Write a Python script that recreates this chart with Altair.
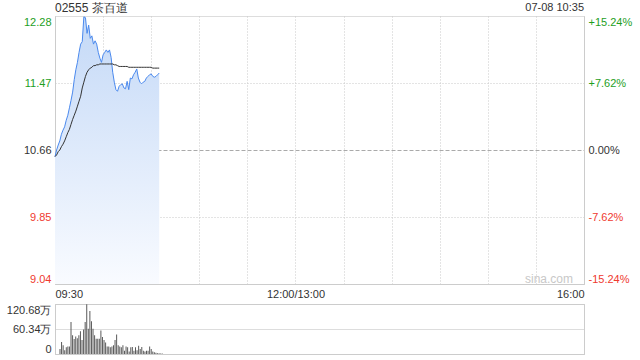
import altair as alt
import pandas as pd

# ---- data ----
minute_idx = list(range(66))  # minutes since 09:30 (09:30 .. 10:35)

price = [10.58, 10.66, 10.72, 10.77, 10.85, 10.90, 10.94, 11.02, 11.08, 11.17,
         11.26, 11.36, 11.51, 11.63, 11.72, 11.84, 11.94, 11.97, 12.27, 12.26,
         12.07, 12.17, 12.01, 12.04, 11.94, 11.98, 11.94, 11.84, 11.77, 11.72,
         11.81, 11.84, 11.87, 11.84, 11.87, 11.78, 11.60, 11.48, 11.39, 11.37,
         11.43, 11.45, 11.46, 11.41, 11.40, 11.49, 11.39, 11.53, 11.52, 11.57,
         11.60, 11.64, 11.53, 11.48, 11.46, 11.48, 11.49, 11.53, 11.55, 11.57,
         11.58, 11.55, 11.54, 11.55, 11.57, 11.59]

avg_price = [10.58, 10.60, 10.64, 10.66, 10.70, 10.73, 10.77, 10.82, 10.87, 10.91,
             10.97, 11.03, 11.08, 11.13, 11.19, 11.25, 11.31, 11.41, 11.48, 11.55,
             11.60, 11.63, 11.65, 11.66, 11.68, 11.68, 11.69, 11.69, 11.70, 11.70,
             11.70, 11.70, 11.70, 11.70, 11.70, 11.70, 11.70, 11.69, 11.69, 11.68,
             11.67, 11.67, 11.67, 11.67, 11.67, 11.67, 11.66, 11.66, 11.66, 11.66,
             11.66, 11.66, 11.66, 11.66, 11.66, 11.66, 11.66, 11.66, 11.66, 11.66,
             11.66, 11.65, 11.65, 11.65, 11.65, 11.65]

volume_wan = [12, 29, 21, 9, 16, 18, 18, 77, 45, 36,
              42, 38, 45, 55, 34, 59, 77, 120, 61, 104,
              79, 61, 45, 37, 37, 37, 57, 41, 34, 28,
              18, 18, 16, 18, 21, 34, 47, 21, 18, 16,
              21, 8, 18, 16, 6, 16, 17, 8, 16, 9,
              20, 12, 17, 8, 6, 8, 8, 18, 12, 6,
              4, 3, 2, 2, 1, 1]

prev_close = 10.66
price_ticks = [9.04, 9.85, 10.66, 11.47, 12.28]
pct_ticks = [-15.24, -7.62, 0.0, 7.62, 15.24]
vol_ticks = [0, 60.34, 120.68]
time_ticks = [0, 30, 60, 90, 120, 150, 180, 210, 240, 270, 300, 330]
time_tick_labels = {0: "09:30", 150: "12:00/13:00", 330: "16:00"}
session_minutes = 330

title_text = "02555 茶百道"
stamp_text = "07-08 10:35"
watermark_text = "sina.com"

GREEN = "#1e9e1e"
RED = "#ef3a2f"
DARK = "#333333"
FRAME = "#cccccc"
GRID = "#c8c8c8"
FONT = "Liberation Sans"

df = pd.DataFrame({
    "t": minute_idx,
    "price": price,
    "avg": avg_price,
    "vol": volume_wan,
    "base": [price_ticks[0]] * len(minute_idx),
})

label_expr = " : ".join(
    [f"datum.value == {k} ? '{v}'" for k, v in time_tick_labels.items()]
) + " : ''"

x_scale = alt.Scale(domain=[0, session_minutes], nice=False, zero=False)
y_scale = alt.Scale(domain=[price_ticks[0], price_ticks[-1]], nice=False, zero=False)

x_axis = alt.Axis(
    values=time_ticks, labelExpr=label_expr, title=None, ticks=False,
    grid=True, gridDash=[1, 2], gridColor=GRID,
    domain=True, domainColor=FRAME, labelFlush=True, labelOverlap=False,
    labelPadding=4, labelFontSize=11, labelColor=DARK, labelFont=FONT,
)

left_axis = alt.Axis(
    values=price_ticks, format=".2f", title=None, ticks=False,
    domain=True, domainColor=FRAME, labelFlush=True, labelPadding=4,
    labelFontSize=11, labelFont=FONT,
    labelColor={"condition": [
        {"test": f"datum.value > {prev_close + 0.005}", "value": GREEN},
        {"test": f"datum.value < {prev_close - 0.005}", "value": RED}],
        "value": DARK},
    grid=True,
    gridColor={"condition": {"test": f"abs(datum.value - {prev_close}) < 0.005", "value": "#aaaaaa"},
               "value": GRID},
    gridDash={"condition": {"test": f"abs(datum.value - {prev_close}) < 0.005", "value": [4, 2]},
              "value": [1, 2]},
    gridOpacity={"condition": {"test": f"datum.value > {price_ticks[-1] - 0.01} || datum.value < {price_ticks[0] + 0.01}", "value": 0},
                 "value": 1},
)

gradient = alt.LinearGradient(
    gradient="linear",
    stops=[alt.GradientStop(color="#c4d9f7", offset=0),
           alt.GradientStop(color="#f9fbff", offset=1)],
    x1=1, x2=1, y1=0, y2=1,
)

base = alt.Chart(df).encode(x=alt.X("t:Q", scale=x_scale, axis=x_axis))

area = base.mark_area(color=gradient).encode(
    y=alt.Y("price:Q", scale=y_scale, axis=left_axis),
    y2="base:Q",
)
line_price = base.mark_line(color="#4a89ee", strokeWidth=1).encode(y=alt.Y("price:Q"))
line_avg = base.mark_line(color="#333333", strokeWidth=1).encode(y=alt.Y("avg:Q"))

title_mark = alt.Chart(pd.DataFrame({"s": [title_text]})).mark_text(
    align="left", baseline="middle", fontSize=12, font=FONT, color=DARK
).encode(text="s:N", x=alt.value(0), y=alt.value(-8))

stamp_mark = alt.Chart(pd.DataFrame({"s": [stamp_text]})).mark_text(
    align="right", baseline="middle", fontSize=11, font=FONT, color=DARK
).encode(text="s:N", x=alt.value(529), y=alt.value(-8))

wm_mark = alt.Chart(pd.DataFrame({"s": [watermark_text]})).mark_text(
    align="right", baseline="middle", fontSize=12, font=FONT, color="#c8c8c8"
).encode(text="s:N", x=alt.value(518), y=alt.value(263))

inner = alt.layer(area, line_price, line_avg, wm_mark, title_mark, stamp_mark)

pct_df = pd.DataFrame({"pct": pct_ticks})
pct_layer = alt.Chart(pct_df).mark_point(opacity=0).encode(
    y=alt.Y("pct:Q", scale=alt.Scale(domain=[pct_ticks[0], pct_ticks[-1]], nice=False, zero=False),
            axis=alt.Axis(
                orient="right", values=pct_ticks, title=None, ticks=False, grid=False,
                domain=True, domainColor=FRAME, labelFlush=True, labelPadding=4,
                labelFontSize=11, labelFont=FONT,
                labelExpr="(datum.value > 0.001 ? '+' : datum.value < -0.001 ? '-' : '') + format(abs(datum.value), '.2f') + '%'",
                labelColor={"condition": [
                    {"test": "datum.value > 0.001", "value": GREEN},
                    {"test": "datum.value < -0.001", "value": RED}],
                    "value": DARK},
            ))
)

price_chart = alt.layer(inner, pct_layer).resolve_scale(y="independent").properties(
    width=529, height=268
)

vol_scale = alt.Scale(domain=[vol_ticks[0], vol_ticks[-1]], nice=False, zero=True)
vol_axis = alt.Axis(
    values=vol_ticks, title=None, ticks=False, domain=True, domainColor=FRAME,
    labelFlush=True, labelPadding=4, labelFontSize=11, labelFont=FONT, labelColor=DARK,
    labelExpr="datum.value == 0 ? '0' : format(datum.value, '.2f') + '万'",
    grid=True, gridDash=[1, 1], gridColor="#bbbbbb",
)

bars = alt.Chart(df).mark_bar(size=1, color="#5a5a5a").encode(
    x=alt.X("t:Q", scale=x_scale, axis=None),
    y=alt.Y("vol:Q", scale=vol_scale, axis=vol_axis),
)
vol_border = alt.Chart(pd.DataFrame({"v": vol_ticks})).mark_point(opacity=0).encode(
    y=alt.Y("v:Q", scale=alt.Scale(domain=[vol_ticks[0], vol_ticks[-1]], nice=False),
            axis=alt.Axis(orient="right", labels=False, ticks=False, grid=False,
                          domain=True, domainColor=FRAME, title=None))
)
vol_chart = alt.layer(bars, vol_border).resolve_scale(y="independent").properties(
    width=529, height=50
)

chart = alt.vconcat(price_chart, vol_chart, spacing=20, bounds="flush").properties(
    padding={"left": 5, "top": 1, "right": 0, "bottom": 0}
).configure_view(stroke=None).configure(background="white")

chart.save("out.html", embed_options={"renderer": "svg", "actions": False})
